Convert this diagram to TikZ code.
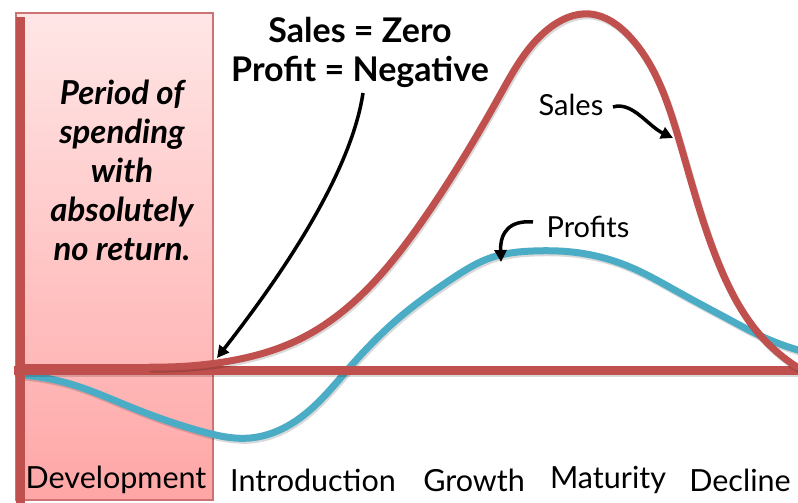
\documentclass[tikz,border=0pt]{standalone}
\usepackage{fontspec}
\setmainfont{Lato}
\usetikzlibrary{arrows.meta,hobby}
\definecolor{axred}{HTML}{C0504D}
\definecolor{profblue}{HTML}{4BACC6}
\definecolor{pinktop}{HTML}{FFE6E6}
\definecolor{pinkbot}{HTML}{FFA6A6}
\begin{document}
\begin{tikzpicture}[x=1pt,y=-1pt,
  axis/.style={axred,line width=9pt},
  salescurve/.style={axred,line width=7pt,line cap=round},
  profcurve/.style={profblue,line width=7pt,line cap=round},
  shadowline/.style={black,opacity=0.15,shift={(1.2pt,-2pt)}},
  callout/.style={black,line width=3.5pt,-{Triangle[length=12pt,width=12pt]}},
  stage/.style={font=\fontsize{30.5}{32}\selectfont,anchor=center},
  lbl/.style={font=\fontsize{29}{30}\selectfont}]
\useasboundingbox (0,0) rectangle (798,503);
\fill[white] (0,0) rectangle (798,503);
% development band
\path[draw=axred!80,line width=1.2pt,top color=pinktop,bottom color=pinkbot] (16,13) rectangle (213,500);
% profits curve
\def\profpath{(20,375) to[curve through={(67,383) (133,408) (200,431) (250,438) (300,418) (350,367) (400,317) (450,280) (493,257) (533,251) (580,253) (630,267) (680,293) (730,320) (763,337)}] (798,350)}
\draw[profcurve,shadowline] \profpath;
\draw[profcurve] \profpath;
% axes
\draw[axis,shadowline] (14,370) -- (798,370);
\draw[axis] (14,370) -- (798,370);
\draw[axis] (20,17) -- (20,503);
% sales curve
\def\salespath{(150,367) to[curve through={(217,363) (300,339) (423,220) (500,95) (547,30) (590,14) (630,37) (677,133) (720,267) (760,335)}] (797,367)}
\draw[salescurve,shadowline] \salespath;
\draw[salescurve] (22,367) -- (150,367);
\draw[salescurve] \salespath;
% texts
\node[font=\fontsize{33}{39}\selectfont\bfseries\itshape,align=center] (period) at (122,170) {Period of\\spending\\with\\absolutely\\no return.};
\node[font=\fontsize{34}{39}\selectfont\bfseries,align=center] (zero) at (360,52) {Sales = Zero\\Profit = Negative};
\node[lbl] (sales) at (571,105) {Sales};
\node[lbl] (profits) at (588,227) {Profits};
\coordinate (zerotip) at (217,358);
\coordinate (salestip) at (673,138);
\coordinate (proftip) at (501,262);
\draw[callout] (363,93) .. controls (350,180) and (270,290) .. (zerotip);
\draw[callout] (613,107) .. controls (632,101) and (648,126) .. (salestip);
\draw[callout] (533,222) .. controls (510,220) and (500,232) .. (proftip);
\node[stage] (dev) at (116,480) {Development};
\node[stage] (intro) at (313,480) {Introduction};
\node[stage] (growth) at (474,480) {Growth};
\node[stage] (mat) at (608,480) {Maturity};
\node[stage] (dec) at (740,480) {Decline};
\end{tikzpicture}
\end{document}
